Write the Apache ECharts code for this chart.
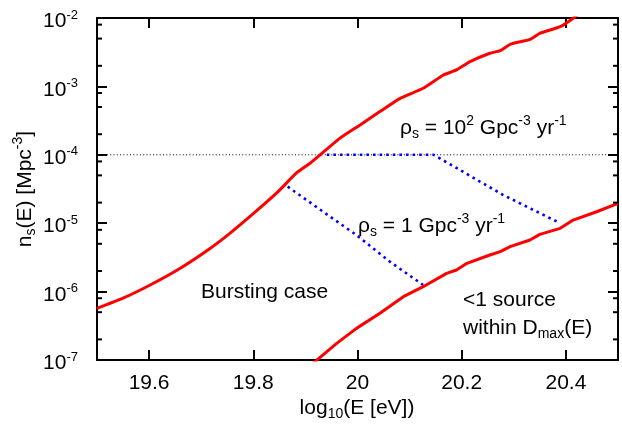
<!DOCTYPE html>
<html><head><meta charset="utf-8">
<script src="https://cdn.jsdelivr.net/npm/echarts@6/dist/echarts.min.js"></script>
<style>html,body{margin:0;padding:0;background:#fff}#c{width:622px;height:426px}</style>
</head><body><div id="c"></div>
<script>
// ---- data ----
const X_MIN = 19.5, X_MAX = 20.5;
const Y_MIN = 1e-7, Y_MAX = 1e-2;
const xTickValues = [19.6, 19.8, 20, 20.2, 20.4];
const yMinorTickValues = [2e-7, 5e-7, 8e-7, 2e-6, 5e-6, 8e-6, 2e-5, 5e-5, 8e-5, 2e-4, 5e-4, 8e-4, 2e-3, 5e-3, 8e-3];

// upper red curve (bursting case boundary)
const upperE = [19.5, 19.551, 19.602, 19.659, 19.717, 19.755, 19.801, 19.845, 19.883, 19.909, 19.928, 19.966, 20.005, 20.043, 20.082, 20.126, 20.165, 20.19, 20.216, 20.254, 20.274, 20.293, 20.331, 20.35, 20.389, 20.414, 20.43];
const upperN = [5.70e-7, 8.09e-7, 1.25e-6, 2.18e-6, 4.28e-6, 7.11e-6, 1.40e-5, 2.77e-5, 5.42e-5, 7.52e-5, 9.93e-5, 1.74e-4, 2.73e-4, 4.28e-4, 6.68e-4, 9.38e-4, 1.47e-3, 1.74e-3, 2.30e-3, 3.05e-3, 3.33e-3, 4.12e-3, 4.88e-3, 5.97e-3, 7.46e-3, 9.91e-3, 1.26e-2];

// lower red curve (<1 source within Dmax)
const lowerE = [19.915, 19.96, 19.998, 20.043, 20.088, 20.126, 20.171, 20.19, 20.21, 20.254, 20.274, 20.293, 20.331, 20.35, 20.389, 20.414, 20.459, 20.5];
const lowerN = [9.0e-8, 1.75e-7, 2.90e-7, 4.82e-7, 8.43e-7, 1.18e-6, 1.85e-6, 2.07e-6, 2.59e-6, 3.43e-6, 3.84e-6, 4.54e-6, 5.68e-6, 6.87e-6, 8.41e-6, 1.11e-5, 1.47e-5, 1.95e-5];

// blue dotted: rho_s = 10^2 Gpc^-3 yr^-1
const rho100E = [19.941, 20.146, 20.197, 20.235, 20.28, 20.318, 20.357, 20.389];
const rho100N = [1e-4, 1e-4, 6.0e-5, 4.05e-5, 2.58e-5, 1.85e-5, 1.32e-5, 1.0e-5];

// blue dotted: rho_s = 1 Gpc^-3 yr^-1
const rho1E = [19.866, 19.934, 19.998, 20.062, 20.126];
const rho1N = [3.42e-5, 1.47e-5, 6.71e-6, 2.74e-6, 1.25e-6];

// horizontal reference level
const refLevelE = [19.5, 20.5];
const refLevelN = [1e-4, 1e-4];

const zip = (a, b) => a.map((v, i) => [v, b[i]]);

// ---- styling ----
const FONT = '"Liberation Sans", Arial, Helvetica, sans-serif';
const FS = 21, FS_S = 14, LH = 28;
const richText = {
  m:   { fontSize: FS,   fontFamily: FONT, fill: '#000', lineHeight: LH, verticalAlign: 'middle' },
  sup: { fontSize: FS_S, fontFamily: FONT, fill: '#000', lineHeight: LH, verticalAlign: 'middle', padding: [0, 0, 14, 0] },
  sub: { fontSize: FS_S, fontFamily: FONT, fill: '#000', lineHeight: LH, verticalAlign: 'middle', padding: [12, 0, 0, 0] }
};
function txt(x, y, text, align, rotation) {
  return {
    type: 'text', x: x, y: y, silent: true, z: 100, rotation: rotation || 0,
    style: { text: text, rich: richText, align: align || 'left', verticalAlign: 'middle', fill: '#000', fontSize: FS, fontFamily: FONT }
  };
}

function axisLineStyle() { return { color: '#000', width: 2 }; }
function tickStyle() { return { color: '#000', width: 2 }; }

const chart = echarts.init(document.getElementById('c'));
chart.setOption({
  animation: false,
  backgroundColor: '#fff',
  grid: { left: 97, right: 4, top: 18, bottom: 66 },
  xAxis: [
    {
      type: 'value', min: X_MIN, max: X_MAX, position: 'bottom',
      axisLine: { show: true, onZero: false, lineStyle: axisLineStyle() },
      axisTick: { show: true, inside: true, length: 10, customValues: xTickValues, lineStyle: tickStyle() },
      axisLabel: {
        show: true, customValues: xTickValues, margin: 13,
        fontSize: FS, fontFamily: FONT, color: '#000',
        formatter: v => String(Math.round(v * 10) / 10)
      },
      splitLine: { show: false }
    },
    {
      type: 'value', min: X_MIN, max: X_MAX, position: 'top',
      axisLine: { show: true, onZero: false, lineStyle: axisLineStyle() },
      axisTick: { show: true, inside: true, length: 10, customValues: xTickValues, lineStyle: tickStyle() },
      axisLabel: { show: false },
      splitLine: { show: false }
    }
  ],
  yAxis: [
    {
      type: 'log', logBase: 10, min: Y_MIN, max: Y_MAX, position: 'left',
      axisLine: { show: true, onZero: false, lineStyle: axisLineStyle() },
      axisTick: { show: true, inside: true, length: 10, lineStyle: tickStyle() },
      axisLabel: {
        show: true, margin: 19,
        formatter: v => '{b|10}{s|' + Math.round(Math.log10(v)) + '}',
        rich: {
          b: { fontSize: FS, fontFamily: FONT, color: '#000', lineHeight: 24, verticalAlign: 'middle', padding: [7, 0, 0, 0] },
          s: { fontSize: FS_S - 1, fontFamily: FONT, color: '#000', lineHeight: 24, verticalAlign: 'middle', padding: [0, 0, 6, 0] }
        }
      },
      splitLine: { show: false }
    },
    {
      type: 'log', logBase: 10, min: Y_MIN, max: Y_MAX, position: 'right',
      axisLine: { show: true, onZero: false, lineStyle: axisLineStyle() },
      axisTick: { show: true, inside: true, length: 10, lineStyle: tickStyle() },
      axisLabel: { show: false },
      splitLine: { show: false }
    }
  ],
  series: [
    {
      name: 'minor ticks', type: 'custom', clip: false, z: 5,
      data: yMinorTickValues.map(v => [X_MIN, v]),
      encode: { x: 0, y: 1 },
      renderItem: function (params, api) {
        const v = api.value(1);
        const pL = api.coord([X_MIN, v]);
        const pR = api.coord([X_MAX, v]);
        return {
          type: 'group',
          children: [
            { type: 'line', shape: { x1: pL[0], y1: pL[1], x2: pL[0] + 5, y2: pL[1] }, style: { stroke: '#000', lineWidth: 2 } },
            { type: 'line', shape: { x1: pR[0] - 5, y1: pR[1], x2: pR[0], y2: pR[1] }, style: { stroke: '#000', lineWidth: 2 } }
          ]
        };
      }
    },
    {
      name: 'reference', type: 'line', data: zip(refLevelE, refLevelN), symbol: 'none', z: 2,
      lineStyle: { color: '#000', width: 1, type: [1, 2.3] }
    },
    {
      name: 'rho100', type: 'line', data: zip(rho100E, rho100N), symbol: 'none', z: 3,
      lineStyle: { color: '#0000ff', width: 2.6, type: [2.6, 4] }
    },
    {
      name: 'rho1', type: 'line', data: zip(rho1E, rho1N), symbol: 'none', z: 3,
      lineStyle: { color: '#0000ff', width: 2.6, type: [2.6, 4] }
    },
    {
      name: 'upper', type: 'line', data: zip(upperE, upperN), symbol: 'none', z: 4,
      smooth: 0.2,
      lineStyle: { color: '#ff0000', width: 3 }
    },
    {
      name: 'lower', type: 'line', data: zip(lowerE, lowerN), symbol: 'none', z: 4,
      lineStyle: { color: '#ff0000', width: 3 }
    }
  ],
  graphic: [
    txt(400, 128, '{m|ρ}{sub|s}{m| = 10}{sup|2}{m| Gpc}{sup|-3}{m| yr}{sup|-1}'),
    txt(358, 226, '{m|ρ}{sub|s}{m| = 1 Gpc}{sup|-3}{m| yr}{sup|-1}'),
    txt(201, 292, '{m|Bursting case}'),
    txt(463, 300, '{m|<1 source}'),
    txt(463, 328, '{m|within D}{sub|max}{m|(E)}'),
    txt(357, 408, '{m|log}{sub|10}{m|(E [eV])}', 'center'),
    txt(25, 189, '{m|n}{sub|s}{m|(E) [Mpc}{sup|-3}{m|]}', 'center', Math.PI / 2)
  ]
});
</script>
</body></html>
